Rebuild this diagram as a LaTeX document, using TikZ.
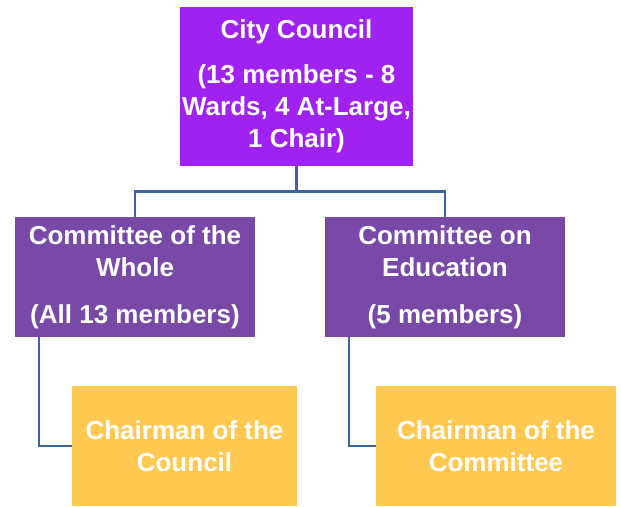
\documentclass[tikz,border=0pt]{standalone}
\usepackage{fontspec}
\setmainfont{Liberation Sans}
\usetikzlibrary{positioning}
\definecolor{councilviolet}{RGB}{160,34,240}
\definecolor{committeepurple}{RGB}{121,73,167}
\definecolor{chairyellow}{RGB}{255,200,80}
\definecolor{linkblue}{RGB}{58,100,166}
\tikzstyle{orgbox}=[rectangle,inner sep=0pt,align=center,text=white,
              font=\fontsize{26}{32}\selectfont\bfseries]
\tikzstyle{council}=[orgbox,fill=councilviolet,minimum width=233pt,minimum height=159pt]
\tikzstyle{committee}=[orgbox,fill=committeepurple,minimum width=240pt,minimum height=120pt]
\tikzstyle{chair}=[orgbox,fill=chairyellow,minimum height=120pt]
\tikzstyle{link}=[draw=linkblue,line width=2.6pt]
\begin{document}
\begin{tikzpicture}[x=1pt,y=-1pt]

	\useasboundingbox (0,0) rectangle (621,506);

	\node[council] (cc) at (296.5,86.5)
		{City Council\\[13pt](13 members - 8\\Wards, 4 At-Large,\\1 Chair)};
	\node[committee] (cow) at (135,277)
		{Committee of the\\Whole\\[15pt](All 13 members)};
	\node[committee] (coe) at (445,277)
		{Committee on\\Education\\[15pt](5 members)};
	\node[chair,minimum width=225pt] (chc) at (184.5,446)
		{Chairman of the\\Council};
	\node[chair,minimum width=240pt] (chm) at (496,446)
		{Chairman of the\\Committee};

  \draw [link] (cc.south) -- ++(0,25) -| (cow.north);
  \draw [link] (cc.south) -- ++(0,25) -| (coe.north);
  \draw [link] ([xshift=24pt]cow.south west) |- (chc.west);
  \draw [link] ([xshift=24pt]coe.south west) |- (chm.west);

\end{tikzpicture}
\end{document}
